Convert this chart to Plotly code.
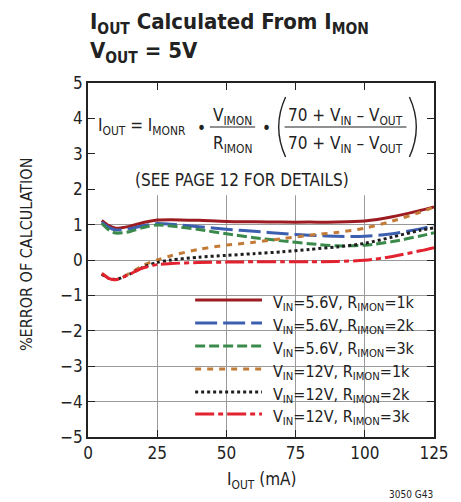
import plotly.graph_objects as go

# Output current (mA)
iout_ma = [5, 7.5, 10, 15, 20, 25, 30, 40, 50, 60, 70, 80, 90, 100, 110, 120, 125]

# % error of calculation for each configuration
err_56v_1k = [1.12, 0.97, 0.90, 0.95, 1.06, 1.13, 1.14, 1.12, 1.09, 1.08, 1.07, 1.07, 1.07, 1.10, 1.22, 1.40, 1.50]
err_56v_2k = [1.07, 0.92, 0.85, 0.88, 0.97, 1.03, 1.01, 0.94, 0.87, 0.81, 0.75, 0.70, 0.67, 0.67, 0.74, 0.88, 0.97]
err_56v_3k = [1.03, 0.85, 0.76, 0.80, 0.92, 0.99, 0.96, 0.86, 0.74, 0.63, 0.54, 0.46, 0.40, 0.42, 0.52, 0.68, 0.77]
err_12v_1k = [-0.38, -0.50, -0.55, -0.38, -0.15, 0.00, 0.12, 0.30, 0.42, 0.50, 0.60, 0.70, 0.78, 0.90, 1.10, 1.35, 1.50]
err_12v_2k = [-0.40, -0.52, -0.55, -0.40, -0.20, -0.07, 0.00, 0.08, 0.13, 0.18, 0.23, 0.30, 0.37, 0.47, 0.65, 0.84, 0.91]
err_12v_3k = [-0.38, -0.52, -0.56, -0.40, -0.22, -0.13, -0.10, -0.07, -0.06, -0.05, -0.05, -0.05, -0.04, -0.01, 0.10, 0.26, 0.35]

series_labels = [
    "V<sub>IN</sub>=5.6V, R<sub>IMON</sub>=1k",
    "V<sub>IN</sub>=5.6V, R<sub>IMON</sub>=2k",
    "V<sub>IN</sub>=5.6V, R<sub>IMON</sub>=3k",
    "V<sub>IN</sub>=12V, R<sub>IMON</sub>=1k",
    "V<sub>IN</sub>=12V, R<sub>IMON</sub>=2k",
    "V<sub>IN</sub>=12V, R<sub>IMON</sub>=3k",
]
series_values = [err_56v_1k, err_56v_2k, err_56v_3k, err_12v_1k, err_12v_2k, err_12v_3k]

x_ticks = [0, 25, 50, 75, 100, 125]
y_ticks = [-5, -4, -3, -2, -1, 0, 1, 2, 3, 4, 5]

styles = [
    dict(color="#9c1c22", dash="solid"),
    dict(color="#3d5fb0", dash="22px,6px"),
    dict(color="#3a8a4c", dash="10px,4px"),
    dict(color="#c37b38", dash="6px,6px"),
    dict(color="#1e1e1e", dash="3px,3px"),
    dict(color="#e2222f", dash="19px,4px,5px,4px"),
]

FONT = "Liberation Sans Narrow, DejaVu Sans Condensed, Arial Narrow, sans-serif"
W, H = 461, 502
L, R, T, B = 88, 440, 83, 437


def px_x(p):
    return (p - L) / (R - L)


def px_y(p):
    return (B - p) / (B - T)


fig = go.Figure()
for label, vals, st in zip(series_labels, series_values, styles):
    fig.add_trace(go.Scatter(
        x=iout_ma, y=vals, mode="lines", name=label, showlegend=False,
        line=dict(color=st["color"], dash=st["dash"], width=3, shape="spline", smoothing=0.8),
    ))

shapes = []
annotations = []

# white panels behind the formula and the key, hiding the grid there
shapes.append(dict(type="rect", xref="x", yref="y", x0=0, x1=125, y0=1.83, y1=5,
                   fillcolor="white", line=dict(width=0), layer="between"))
shapes.append(dict(type="rect", xref="paper", yref="y", x0=px_x(188), x1=1, y0=-5, y1=-0.72,
                   fillcolor="white", line=dict(width=0), layer="between"))

# key: line samples and labels
row_y = [300, 323, 346, 369, 392, 414]
for label, st, ry in zip(series_labels, styles, row_y):
    shapes.append(dict(type="line", xref="paper", yref="paper",
                       x0=px_x(197), x1=px_x(265), y0=px_y(ry), y1=px_y(ry),
                       line=dict(color=st["color"], dash=st["dash"], width=3)))
    annotations.append(dict(text=label, xref="paper", yref="paper", x=px_x(274), y=px_y(ry + 3),
                            xanchor="left", yanchor="middle", showarrow=False,
                            font=dict(family=FONT, size=16, color="#222")))

# formula
fs = 17
txt = dict(xref="paper", yref="paper", showarrow=False, font=dict(family=FONT, size=fs, color="#222"))
annotations.append(dict(txt, text="I<sub>OUT</sub> = I<sub>MONR</sub>", x=px_x(96), y=px_y(127),
                        xanchor="left", yanchor="middle"))
annotations.append(dict(txt, text="•", x=px_x(203), y=px_y(128), xanchor="center", yanchor="middle"))
annotations.append(dict(txt, text="V<sub>IMON</sub>", x=px_x(235), y=px_y(116), xanchor="center", yanchor="middle"))
annotations.append(dict(txt, text="R<sub>IMON</sub>", x=px_x(235), y=px_y(144), xanchor="center", yanchor="middle"))
annotations.append(dict(txt, text="•", x=px_x(270), y=px_y(128), xanchor="center", yanchor="middle"))
annotations.append(dict(txt, text="70 + V<sub>IN</sub> – V<sub>OUT</sub>", x=px_x(350), y=px_y(116),
                        xanchor="center", yanchor="middle"))
annotations.append(dict(txt, text="70 + V<sub>IN</sub> – V<sub>OUT</sub>", x=px_x(350), y=px_y(144),
                        xanchor="center", yanchor="middle"))
annotations.append(dict(txt, text="(SEE PAGE 12 FOR DETAILS)", x=px_x(245), y=px_y(180),
                        xanchor="center", yanchor="middle"))
for x0, x1 in [(212, 258), (288, 412)]:
    shapes.append(dict(type="line", xref="paper", yref="paper", x0=px_x(x0), x1=px_x(x1),
                       y0=px_y(127), y1=px_y(127), line=dict(color="#222", width=1.2)))
shapes.append(dict(type="path", xref="paper", yref="paper",
                   path=f"M {px_x(289)},{px_y(97)} Q {px_x(275)},{px_y(127)} {px_x(289)},{px_y(157)}",
                   line=dict(color="#222", width=1.4)))
shapes.append(dict(type="path", xref="paper", yref="paper",
                   path=f"M {px_x(415)},{px_y(97)} Q {px_x(429)},{px_y(127)} {px_x(415)},{px_y(157)}",
                   line=dict(color="#222", width=1.4)))

# heading
head = dict(xref="paper", yref="paper", showarrow=False, xanchor="left", yanchor="middle",
            font=dict(family=FONT, size=22, color="#222", weight="bold"))
annotations.append(dict(head, text="I<sub>OUT</sub> Calculated From I<sub>MON</sub>", x=px_x(88), y=px_y(24)))
annotations.append(dict(head, text="V<sub>OUT</sub> = 5V", x=px_x(88), y=px_y(52)))

# axis titles and figure code
annotations.append(dict(text="%ERROR OF CALCULATION", xref="paper", yref="paper", x=px_x(25), y=px_y(255),
                        textangle=-90, showarrow=False, xanchor="center", yanchor="middle",
                        font=dict(family=FONT, size=16, color="#222")))
annotations.append(dict(text="I<sub>OUT</sub> (mA)", xref="paper", yref="paper", x=px_x(264), y=px_y(480),
                        showarrow=False, xanchor="center", yanchor="middle",
                        font=dict(family=FONT, size=17, color="#222")))
annotations.append(dict(text="3050 G43", xref="paper", yref="paper", x=px_x(441), y=px_y(494),
                        showarrow=False, xanchor="right", yanchor="middle",
                        font=dict(family=FONT, size=10, color="#222")))

axis_common = dict(
    showline=True, linecolor="#222", linewidth=1.5, mirror="ticks",
    ticks="inside", ticklen=7, tickcolor="#222", tickwidth=1,
    showgrid=True, gridcolor="#999999", gridwidth=1, zeroline=False,
    tickfont=dict(family=FONT, size=17, color="#222"),
)

fig.update_layout(
    width=W, height=H,
    margin=dict(l=L, r=W - R, t=T, b=H - B),
    paper_bgcolor="white", plot_bgcolor="white",
    xaxis=dict(axis_common, range=[0, 125], tickvals=x_ticks, ticktext=[str(v) for v in x_ticks]),
    yaxis=dict(axis_common, range=[-5, 5], tickvals=y_ticks,
               ticktext=[str(v).replace("-", "\u2212") for v in y_ticks]),
    shapes=shapes,
    annotations=annotations,
)

fig.write_html("out.html")
